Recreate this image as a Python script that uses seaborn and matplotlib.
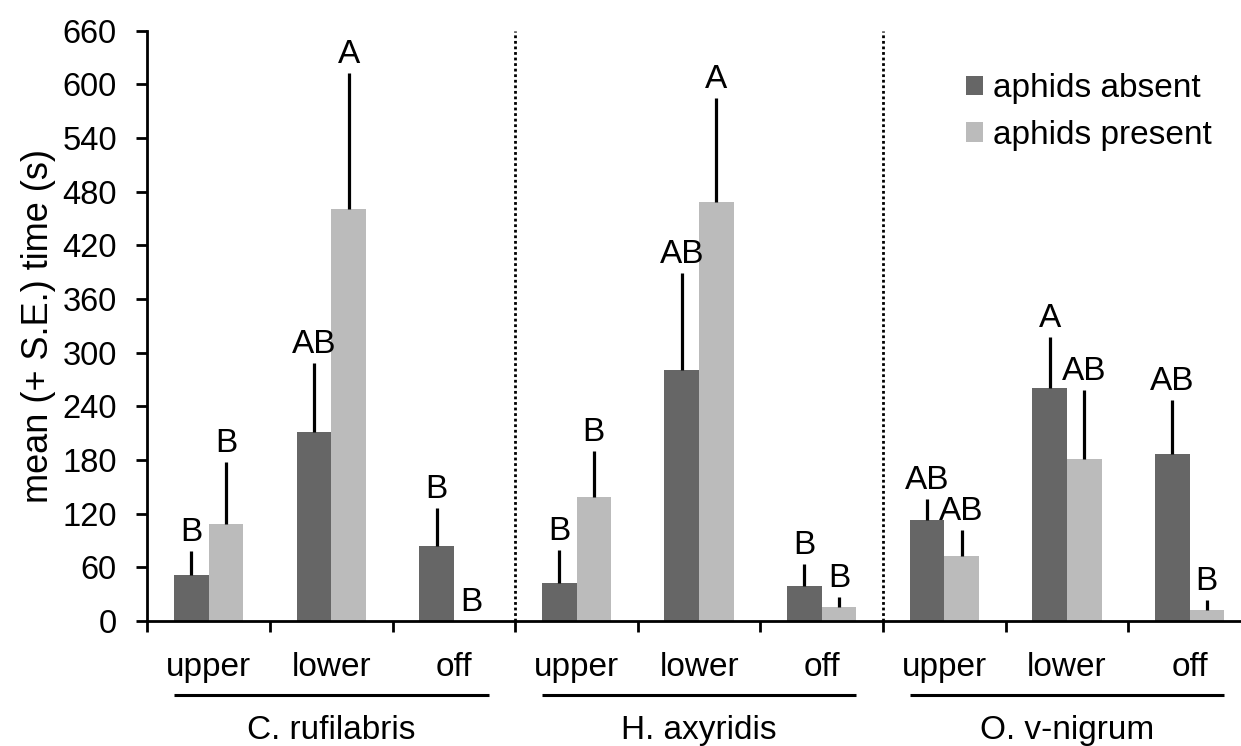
import numpy as np
import pandas as pd
import matplotlib
matplotlib.use("Agg")
import matplotlib.pyplot as plt
import matplotlib.transforms as mtransforms
import seaborn as sns

# ---------------- data ----------------
species = ["C. rufilabris", "H. axyridis", "O. v-nigrum"]
locations = ["upper", "lower", "off"]
conditions = ["aphids absent", "aphids present"]

absent_mean = [51, 211, 84, 43, 281, 39, 113, 260, 187]
absent_se = [27, 78, 42, 36, 108, 25, 23, 57, 60]
present_mean = [108, 461, 0, 139, 469, 16, 73, 181, 12]
present_se = [70, 152, 0, 51, 116, 11, 29, 77, 11]

absent_letters = ["B", "AB", "B", "B", "AB", "B", "AB", "A", "AB"]
present_letters = ["B", "A", "B", "B", "A", "B", "AB", "AB", "B"]

y_ticks = list(range(0, 661, 60))
y_label = "mean (+ S.E.) time (s)"
colors = ["#666666", "#bbbbbb"]

# ---------------- frame ----------------
keys = [f"{s}|{l}" for s in species for l in locations]
rows = []
for cond, means in zip(conditions, [absent_mean, present_mean]):
    for k, m in zip(keys, means):
        rows.append({"key": k, "cond": cond, "mean": m})
df = pd.DataFrame(rows)

sns.set_style("white")
plt.rcParams["font.family"] = ["Liberation Sans", "DejaVu Sans"]
for k in ["text.color", "axes.labelcolor", "xtick.color", "ytick.color", "axes.edgecolor"]:
    plt.rcParams[k] = "black"

W, H = 1241, 746
fig = plt.figure(figsize=(W / 100, H / 100), dpi=100)
x0_px, y0_px, ytop_px = 147.4, 621.0, 30.7
ax = fig.add_axes([x0_px / W, 1 - y0_px / H, (W - x0_px) / W, (y0_px - ytop_px) / H])

sns.barplot(data=df, x="key", y="mean", hue="cond", order=keys,
            hue_order=conditions, palette=colors, width=0.565,
            errorbar=None, saturation=1, linewidth=0, ax=ax)

# error bars (upper half only) and letters
all_means = [absent_mean, present_mean]
all_se = [absent_se, present_se]
all_letters = [absent_letters, present_letters]
for ci, cont in enumerate(ax.containers[:2]):
    for bar in cont:
        xc = bar.get_x() + bar.get_width() / 2
        i = int(round(xc))
        m, s = all_means[ci][i], all_se[ci][i]
        if s > 0:
            ax.vlines(xc, m, m + s, color="black", lw=2.3, zorder=3)
        ax.annotate(all_letters[ci][i], xy=(xc, m + s), xytext=(0, 7.2),
                    textcoords="offset points", ha="center", va="baseline",
                    fontsize=24, color="black")

# dotted separators
ax.vlines([2.5, 5.5], 0, 660, colors="black", linestyles=(0, (1, 1)), lw=2.0, zorder=2)

# axes styling
ax.set_ylim(0, 660)
ax.set_xlim(-0.5, 8.42)
ax.set_yticks(y_ticks)
ax.set_yticklabels([str(v) for v in y_ticks], fontsize=23.5)
ax.set_xticks(np.arange(-0.5, 8.5, 1.0))
ax.set_xticklabels([""] * 9)
ax.tick_params(axis="both", direction="out", length=8, width=2.0, color="black",
               bottom=True, left=True)
ax.tick_params(axis="y", pad=14)
for sp in ["top", "right"]:
    ax.spines[sp].set_visible(False)
for sp in ["left", "bottom"]:
    ax.spines[sp].set_linewidth(2.0)
    ax.spines[sp].set_color("black")
ax.set_xlabel("")
ax.set_ylabel(y_label, fontsize=26, va="center")
ax.yaxis.set_label_coords(-0.1, 0.5)
ax.grid(False)

# category and group labels
trans = mtransforms.blended_transform_factory(ax.transData, ax.transAxes)
for gi, sp_name in enumerate(species):
    for li, loc in enumerate(locations):
        ax.text(gi * 3 + li, -0.0932, loc, transform=trans, ha="center",
                va="baseline", fontsize=24)
    ax.plot([gi * 3 - 0.283, gi * 3 + 2.283], [-0.1254, -0.1254], color="black",
            lw=2.2, transform=trans, clip_on=False, solid_capstyle="butt")
    ax.text(gi * 3 + 1, -0.200, sp_name, transform=trans, ha="center",
            va="baseline", fontsize=24)

# legend
sns.move_legend(ax, "upper left", bbox_to_anchor=(0.7485, 0.928), frameon=False,
                title=None, fontsize=24, handlelength=0.51, handleheight=0.51,
                handletextpad=0.3, labelspacing=0.47, borderpad=0, borderaxespad=0,
                labelcolor="black")

fig.savefig("out.png", dpi=100)
